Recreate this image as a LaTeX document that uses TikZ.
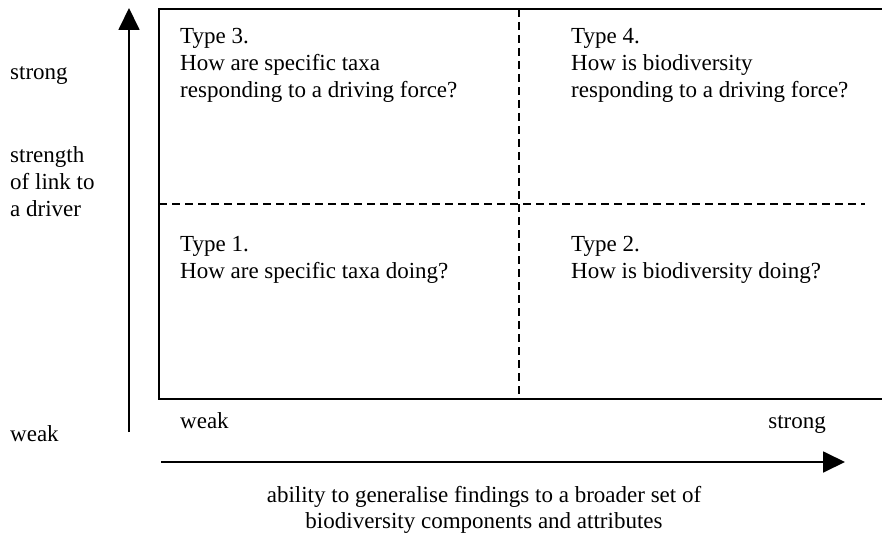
\documentclass[tikz,border=0pt]{standalone}
\usepackage{fontspec}
\setmainfont{Liberation Serif}
\usetikzlibrary{positioning,arrows.meta}
\definecolor{inkc}{RGB}{0,0,0}

\begin{document}
\begin{tikzpicture}[
  x=1pt, y=-1pt,
  frame/.style={line width=1.8pt, inkc},
  split/.style={line width=1.5pt, inkc, dash pattern=on 8pt off 5pt},
  axis/.style={-{Triangle[length=22pt, width=21pt]}, line width=1.8pt, inkc},
  txt/.style={font=\fontsize{23}{27}\selectfont, text=inkc, inner sep=0pt, align=left},
  captxt/.style={font=\fontsize{23}{26}\selectfont, text=inkc, inner sep=0pt, align=center},
]
\useasboundingbox (0,0) rectangle (882,537);

% ============ frame ============
\draw[frame] (882,9) -- (159,9) -- (159,399) -- (882,399);
\draw[split] (519,9) -- (519,399);
\draw[split] (159,204) -- (865,204);

% ============ quadrants (anchored at last baseline) ============
\node[txt, anchor=base west] (t3) at (180,98)  {Type 3.\\How are specific taxa\\responding to a driving force?};
\node[txt, anchor=base west] (t4) at (571,98)  {Type 4.\\How is biodiversity\\responding to a driving force?};
\node[txt, anchor=base west] (t1) at (180,278) {Type 1.\\How are specific taxa doing?};
\node[txt, anchor=base west] (t2) at (571,278) {Type 2.\\How is biodiversity doing?};

% ============ vertical axis ============
\coordinate (yfoot) at (129,432);
\coordinate (ytip)  at (129,8);
\draw[axis] (yfoot) -- (ytip);
\node[txt, anchor=base west] (ystrong) at (10,80)  {strong};
\node[txt, anchor=base west] (ylabel)  at (10,216) {strength\\of link to\\a driver};
\node[txt, anchor=base west] (yweak)   at (10,441) {weak};

% ============ horizontal axis ============
\coordinate (xfoot) at (161,462);
\coordinate (xtip)  at (845,462);
\draw[axis] (xfoot) -- (xtip);
\node[txt, anchor=base west] (xweak)   at (180,428) {weak};
\node[txt, anchor=base east] (xstrong) at (826,428) {strong};
\node[captxt, anchor=base] (xlabel) at (484,528)
  {ability to generalise findings to a broader set of\\biodiversity components and attributes};
\end{tikzpicture}
\end{document}
